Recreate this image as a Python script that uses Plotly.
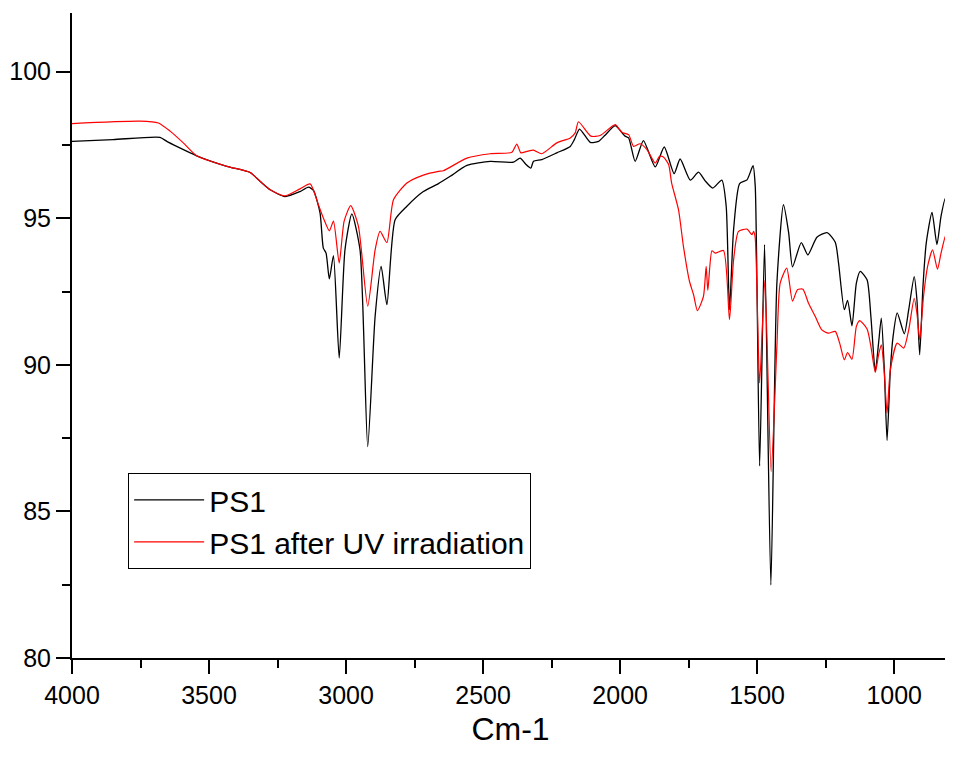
import plotly.graph_objects as go

# PS1 spectrum (wavenumber, transmittance)
ps1_x = [4000, 3850, 3679, 3654, 3618, 3545, 3435, 3350, 3314, 3277, 3223, 3168, 3137, 3119,
         3095, 3083, 3073, 3061, 3046, 3025, 3004, 2979, 2949, 2921, 2894, 2872, 2851, 2821,
         2778, 2718, 2663, 2620, 2559, 2474, 2389, 2365, 2345, 2326, 2316, 2286, 2231, 2182,
         2167, 2148, 2109, 2079, 2055, 2018, 1982, 1969, 1945, 1915, 1872, 1839, 1803, 1781,
         1744, 1714, 1690, 1662, 1629, 1613, 1601, 1586, 1564, 1537, 1515, 1507, 1491, 1473,
         1450, 1428, 1404, 1385, 1371, 1339, 1315, 1282, 1245, 1215, 1203, 1182, 1170, 1154,
         1138, 1124, 1099, 1085, 1069, 1057, 1047, 1036, 1026, 1014, 1004, 989, 963, 947,
         927, 917, 907, 895, 883, 862, 844, 829, 813, 798]
ps1_y = [97.62, 97.68, 97.76, 97.62, 97.45, 97.13, 96.77, 96.56, 96.26, 95.97, 95.74, 95.91, 96.06, 95.95,
         95.18, 93.98, 93.81, 92.93, 93.72, 90.23, 93.92, 95.15, 93.92, 87.21, 91.65, 93.36, 92.05, 94.95,
         95.41, 95.91, 96.18, 96.43, 96.80, 96.94, 96.91, 97.05, 96.85, 96.71, 96.94, 97.00, 97.23, 97.45,
         97.68, 98.04, 97.59, 97.62, 97.83, 98.16, 97.80, 97.74, 96.94, 97.65, 96.75, 97.43, 96.52, 97.02,
         96.30, 96.57, 96.28, 96.03, 96.30, 95.41, 91.88, 94.61, 96.18, 96.31, 96.79, 96.09, 86.55, 94.10,
         82.49, 92.79, 95.46, 94.50, 93.34, 94.17, 93.75, 94.35, 94.51, 94.18, 93.47, 91.88, 92.20, 91.33,
         92.79, 93.19, 92.90, 91.65, 89.77, 90.74, 91.59, 89.83, 87.42, 89.83, 90.97, 91.77, 91.06, 91.88,
         93.01, 92.22, 90.34, 92.67, 94.15, 95.20, 94.10, 95.07, 95.69, 95.20]

# PS1 after UV irradiation
uv_x = [4000, 3752, 3685, 3642, 3594, 3545, 3435, 3350, 3314, 3277, 3223, 3168, 3131, 3101,
        3083, 3061, 3046, 3025, 3007, 2983, 2955, 2921, 2894, 2876, 2851, 2827, 2778, 2718,
        2663, 2645, 2559, 2474, 2395, 2377, 2362, 2340, 2316, 2286, 2231, 2182, 2164, 2152,
        2107, 2073, 2018, 1994, 1969, 1951, 1927, 1902, 1872, 1856, 1842, 1823, 1812, 1787,
        1769, 1747, 1732, 1718, 1696, 1686, 1680, 1665, 1653, 1623, 1601, 1586, 1568, 1537,
        1519, 1513, 1507, 1491, 1472, 1449, 1428, 1416, 1392, 1371, 1353, 1333, 1313, 1288,
        1264, 1240, 1215, 1199, 1182, 1170, 1154, 1138, 1126, 1099, 1085, 1069, 1057, 1047,
        1036, 1026, 1014, 989, 965, 947, 927, 917, 907, 893, 878, 860, 842, 829, 810, 798]
uv_y = [98.23, 98.31, 98.25, 97.97, 97.57, 97.13, 96.77, 96.56, 96.26, 95.97, 95.76, 96.00, 96.17, 95.46,
        95.01, 94.57, 94.90, 93.47, 94.90, 95.43, 94.73, 92.00, 93.92, 94.55, 94.17, 95.63, 96.20, 96.47,
        96.60, 96.62, 97.05, 97.20, 97.25, 97.53, 97.23, 97.28, 97.32, 97.20, 97.57, 97.74, 97.91, 98.29,
        97.80, 97.82, 98.19, 97.93, 97.85, 97.45, 97.54, 97.34, 96.88, 97.11, 97.09, 96.83, 96.20, 95.29,
        94.04, 92.85, 92.39, 91.85, 92.33, 93.36, 92.54, 93.89, 93.81, 93.90, 91.54, 93.58, 94.55, 94.63,
        94.44, 94.55, 94.32, 89.38, 92.88, 86.36, 90.63, 92.79, 93.30, 92.17, 92.56, 92.58, 92.11, 91.65,
        91.19, 91.08, 91.14, 90.74, 90.17, 90.42, 90.19, 91.31, 91.51, 91.22, 90.63, 89.74, 90.34, 90.68,
        89.72, 88.35, 89.83, 90.74, 90.57, 91.19, 92.27, 91.76, 90.85, 92.33, 93.36, 93.92, 93.26, 93.81,
        94.46, 94.24]

series_names = ["PS1", "PS1 after UV irradiation"]
x_ticks = [4000, 3500, 3000, 2500, 2000, 1500, 1000]
y_ticks = [80, 85, 90, 95, 100]

FONT = "Arial, Liberation Sans, sans-serif"

fig = go.Figure()
fig.add_trace(go.Scatter(x=ps1_x, y=ps1_y, mode="lines", name=series_names[0],
                         line=dict(color="black", width=1.3, shape="spline", smoothing=0.6)))
fig.add_trace(go.Scatter(x=uv_x, y=uv_y, mode="lines", name=series_names[1],
                         line=dict(color="#ff0000", width=1.2, shape="spline", smoothing=0.6)))

axis_common = dict(showgrid=False, zeroline=False, showline=True, linecolor="black", linewidth=2,
                   ticks="outside", ticklen=14, tickwidth=2, tickcolor="black",
                   tickfont=dict(family=FONT, size=25, color="black"), mirror=False)

fig.update_xaxes(range=[4000, 800], tickvals=x_ticks, ticktext=[str(v) for v in x_ticks],
                 minor=dict(ticks="outside", ticklen=8, tickwidth=2, tickcolor="black", dtick=250, tick0=0),
                 title=dict(text="Cm-1", font=dict(family=FONT, size=32, color="black"), standoff=10),
                 **axis_common)
fig.update_yaxes(range=[80, 102], tickvals=y_ticks, ticktext=[str(v) for v in y_ticks],
                 minor=dict(ticks="outside", ticklen=8, tickwidth=2, tickcolor="black", dtick=2.5, tick0=80),
                 **axis_common)

# the page body has an 8px default margin, so the figure is sized to fit the 953x758 window
fig.update_layout(
    width=945, height=750,
    margin=dict(l=64, r=4, t=5, b=100, autoexpand=False),
    paper_bgcolor="white", plot_bgcolor="white",
    showlegend=True,
    legend=dict(x=0.064, y=0.287, xanchor="left", yanchor="top",
                bordercolor="black", borderwidth=1, bgcolor="white",
                font=dict(family=FONT, size=30, color="black"),
                itemwidth=70, tracegroupgap=0),
)

fig.write_html("out.html", config={"displayModeBar": False})
